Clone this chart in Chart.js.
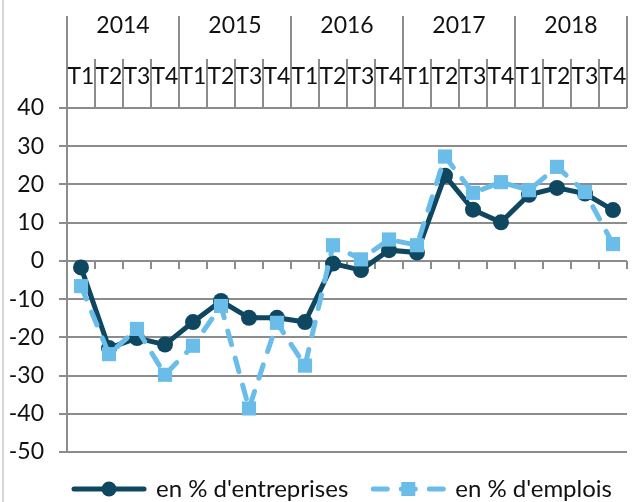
<!DOCTYPE html>
<html lang="fr">
<head>
<meta charset="UTF-8">
<title>Entreprises et emplois</title>
<script src="https://cdn.jsdelivr.net/npm/chart.js@4.4.1/dist/chart.umd.min.js"></script>
<style>
    body { margin: 0; background: #fff; }
    #wrap { position: relative; width: 636px; height: 502px; overflow: hidden; }
    #wrap:before { content: ''; position: absolute; left: 2px; top: 0; width: 2px; height: 100%; background: #d6d6d6; }
    canvas { display: block; }
</style>
</head>
<body>
<div id="wrap"><canvas id="chart" width="637" height="502"></canvas></div>

<script>
// quarters and years on the top axes
var quarters = ['T1', 'T2', 'T3', 'T4', 'T1', 'T2', 'T3', 'T4', 'T1', 'T2',
                'T3', 'T4', 'T1', 'T2', 'T3', 'T4', 'T1', 'T2', 'T3', 'T4'];
var years = ['2014', '2015', '2016', '2017', '2018'];

// values
var entreprises = [-1.7, -22.8, -20.2, -21.9, -16.0, -10.5, -14.9, -14.9, -16.0, -0.7,
                   -2.4, 2.8, 2.2, 22.3, 13.4, 10.1, 17.3, 19.1, 17.6, 13.3];
var emplois = [-6.6, -24.4, -17.8, -29.8, -22.2, -11.8, -38.6, -16.2, -27.4, 4.1,
               0.4, 5.6, 4.1, 27.3, 17.8, 20.6, 18.5, 24.6, 18.0, 4.4];

var dark = '#0f4660';
var light = '#69bde8';
var gridColor = '#8c8c8c';
var textColor = '#111';

Chart.defaults.font.family = 'Lato';
Chart.defaults.font.size = 23;
Chart.defaults.color = textColor;

// draws the marker on top of each legend line
var legendMarkers = {
    id: 'legendMarkers',
    afterDraw: function(chart) {
        var legend = chart.legend;
        if (!legend || !legend.legendHitBoxes) return;
        var ctx = chart.ctx;
        var bw = chart.options.plugins.legend.labels.pointStyleWidth;
        legend.legendItems.forEach(function(item, i) {
            var hb = legend.legendHitBoxes[i];
            var cx = hb.left + bw / 2;
            var cy = hb.top + hb.height / 2;
            ctx.save();
            if (item.datasetIndex === 0) {
                ctx.fillStyle = dark;
                ctx.beginPath();
                ctx.arc(cx, cy, 7.5, 0, Math.PI * 2);
                ctx.fill();
            } else {
                ctx.fillStyle = light;
                ctx.fillRect(cx - 7, cy - 7, 14, 14);
            }
            ctx.restore();
        });
    }
};

var ctx = document.getElementById('chart').getContext('2d');
var chart = new Chart(ctx, {
    type: 'line',
    data: {
        labels: quarters,
        datasets: [{
            label: "en % d'entreprises",
            data: entreprises,
            borderColor: dark,
            backgroundColor: dark,
            borderWidth: 5,
            pointStyle: 'circle',
            pointRadius: 8,
            pointBorderWidth: 0,
            tension: 0,
            order: 2
        }, {
            label: "en % d'emplois",
            data: emplois,
            borderColor: light,
            backgroundColor: light,
            borderWidth: 5,
            borderDash: [14, 14],
            borderCapStyle: 'round',
            pointStyle: 'rect',
            pointRadius: 10,
            pointBorderWidth: 0,
            tension: 0,
            order: 1
        }]
    },
    options: {
        responsive: false,
        animation: false,
        layout: { padding: { top: 16, left: 0, right: 0, bottom: -9 } },
        plugins: {
            tooltip: { enabled: false },
            legend: {
                position: 'bottom',
                align: 'end',
                labels: {
                    usePointStyle: true,
                    pointStyle: 'line',
                    pointStyleWidth: 70,
                    padding: 25,
                    color: textColor,
                    font: { size: 24 },
                    generateLabels: function(chart) {
                        return chart.data.datasets.map(function(ds, i) {
                            return {
                                text: ds.label,
                                datasetIndex: i,
                                strokeStyle: ds.borderColor,
                                fillStyle: ds.borderColor,
                                lineWidth: 5,
                                lineDash: ds.borderDash || [],
                                lineCap: 'round',
                                pointStyle: 'line',
                                fontColor: textColor,
                                hidden: false
                            };
                        });
                    }
                }
            }
        },
        scales: {
            x: {
                type: 'category',
                position: { y: 0 },
                offset: true,
                ticks: { display: false },
                grid: {
                    offset: true,
                    drawOnChartArea: false,
                    drawTicks: true,
                    tickLength: 8,
                    color: gridColor,
                    lineWidth: 2
                },
                border: { display: false }
            },
            xq: {
                type: 'category',
                labels: quarters,
                position: 'top',
                weight: 1,
                offset: true,
                ticks: { autoSkip: false, maxRotation: 0, padding: -31, color: textColor },
                grid: {
                    offset: true,
                    drawOnChartArea: false,
                    tickLength: 49,
                    color: gridColor,
                    lineWidth: 2
                },
                border: { display: false },
                afterFit: function(s) { s.height = 49; }
            },
            xy: {
                type: 'category',
                labels: years,
                position: 'top',
                weight: 10,
                offset: true,
                ticks: { autoSkip: false, maxRotation: 0, padding: -23, color: textColor },
                grid: {
                    offset: true,
                    drawOnChartArea: false,
                    tickLength: 43,
                    color: gridColor,
                    lineWidth: 2
                },
                border: { display: false },
                afterFit: function(s) { s.height = 43; }
            },
            y: {
                min: -50,
                max: 40,
                ticks: { stepSize: 10, padding: 15, color: textColor },
                grid: { color: gridColor, lineWidth: 2, tickLength: 8 },
                border: { color: gridColor, width: 2 },
                afterFit: function(s) { s.width = 67; }
            }
        }
    },
    plugins: [legendMarkers]
});
</script>
</body>
</html>
